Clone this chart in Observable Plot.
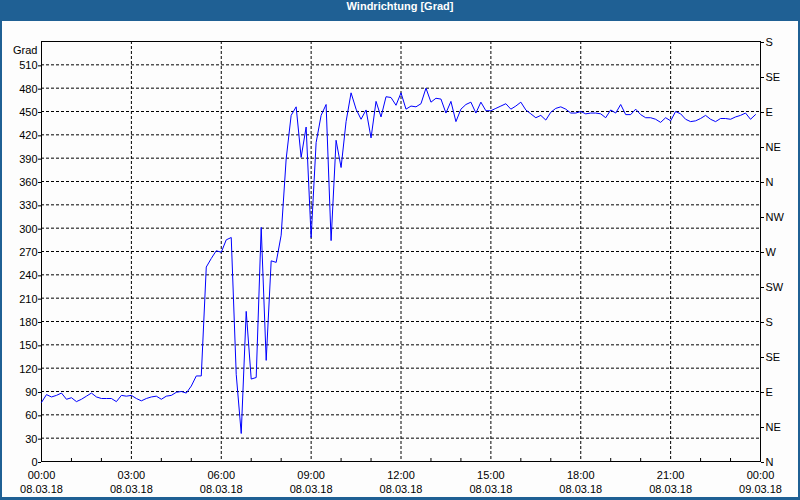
<!DOCTYPE html>
<html><head><meta charset="utf-8">
<script src="https://cdn.jsdelivr.net/npm/d3@7"></script>
<script src="https://cdn.jsdelivr.net/npm/@observablehq/plot@0.6"></script>
<style>
html,body{margin:0;padding:0;background:#fff;}
#wrap{position:relative;width:796px;height:476px;background:#1f6094;padding:21px 2px 3px 2px;}
#title{position:absolute;left:0;top:0;width:800px;height:21px;line-height:20px;text-align:center;color:#fff;font:bold 11px "Liberation Sans",sans-serif;}
#chart{background:#fdfdfd;width:796px;height:476px;}
#chart svg{display:block;}
</style></head>
<body>
<div id="wrap"><div id="title">Windrichtung [Grad]</div><div id="chart"></div></div>
<script>
const start = Date.UTC(2018, 2, 8, 0, 0);
const stepMinutes = 10;
const direction = [
  76, 86, 83, 85, 88, 80, 82, 77, 80, 84, 88, 83, 81, 81, 81, 77, 85, 84, 85, 81,
  78, 81, 83, 84, 80, 84, 85, 89, 90, 88, 97, 110, 110, 250, 261, 271, 269, 285, 288, 112,
  36, 193, 106, 108, 301, 130, 258, 256, 291, 389, 445, 456, 391, 430, 288, 410, 445, 459, 284, 413,
  378, 437, 474, 453, 440, 452, 416, 463, 443, 469, 468, 458, 474, 453, 457, 456, 460, 480, 462, 467,
  466, 448, 463, 437, 453, 459, 462, 448, 462, 451, 451, 454, 457, 460, 453, 457, 462, 452, 447, 442,
  445, 439, 449, 454, 456, 453, 448, 448, 450, 447, 448, 448, 447, 442, 452, 448, 459, 446, 446, 453,
  446, 442, 442, 440, 436, 442, 438, 450, 447, 440, 437, 438, 441, 445, 440, 437, 441, 441, 440, 443,
  445, 448, 440, 446
];
const yTicks = [0, 30, 60, 90, 120, 150, 180, 210, 240, 270, 300, 330, 360, 390, 420, 450, 480, 510];
const compassTicks = [0, 45, 90, 135, 180, 225, 270, 315, 360, 405, 450, 495, 540];
const compassLabels = ["N", "NE", "E", "SE", "S", "SW", "W", "NW", "N", "NE", "E", "SE", "S"];
const xTickHours = [0, 3, 6, 9, 12, 15, 18, 21, 24];
const xLabelTime = ["00:00", "03:00", "06:00", "09:00", "12:00", "15:00", "18:00", "21:00", "00:00"];
const xLabelDate = ["08.03.18", "08.03.18", "08.03.18", "08.03.18", "08.03.18", "08.03.18", "08.03.18", "08.03.18", "09.03.18"];
const minorTickHours = [1, 2, 4, 5, 7, 8, 10, 11, 13, 14, 16, 17, 19, 20, 22, 23];

const data = direction.map((v, i) => ({time: new Date(start + i * stepMinutes * 60000), dir: v}));
const xTicks = xTickHours.map(h => new Date(start + h * 3600000));
const minorTicks = minorTickHours.map(h => new Date(start + h * 3600000));
const xLabel = d => {
  const i = xTicks.findIndex(t => t.getTime() === +d);
  return xLabelTime[i] + "\n" + xLabelDate[i];
};
const gridStyle = {stroke: "#000", strokeOpacity: 1, strokeWidth: 1, strokeDasharray: "3,2"};

const chart = Plot.plot({
  width: 796, height: 476,
  marginLeft: 39, marginTop: 20, marginRight: 38, marginBottom: 36,
  style: {background: "#fdfdfd", fontFamily: "'Liberation Sans', sans-serif", fontSize: "11px", color: "#000"},
  x: {type: "utc", domain: [xTicks[0], xTicks[xTicks.length - 1]]},
  y: {domain: [0, 540]},
  marks: [
    Plot.gridY(yTicks.slice(1), gridStyle),
    Plot.gridX(xTicks.slice(1, -1), gridStyle),
    Plot.frame({stroke: "#000", strokeWidth: 1}),
    Plot.axisY(yTicks, {anchor: "left", tickSize: 3, tickPadding: 1, dy: 1, label: null}),
    Plot.axisY(compassTicks, {anchor: "right", tickSize: 3, tickPadding: 2, dy: 1, label: null,
      tickFormat: d => compassLabels[compassTicks.indexOf(d)]}),
    Plot.axisX(xTicks, {anchor: "bottom", tickSize: 0, tickPadding: 8, lineHeight: 1.27, label: null, tickFormat: xLabel}),
    Plot.axisX(minorTicks, {anchor: "bottom", tickSize: -3, tickFormat: () => "", label: null}),
    Plot.line(data, {x: "time", y: "dir", stroke: "#0000ff", strokeWidth: 1}),
    Plot.text(["Grad"], {frameAnchor: "top-left", dx: -4, dy: 5, textAnchor: "end"})
  ]
});
document.getElementById("chart").appendChild(chart);
</script>
</body></html>
